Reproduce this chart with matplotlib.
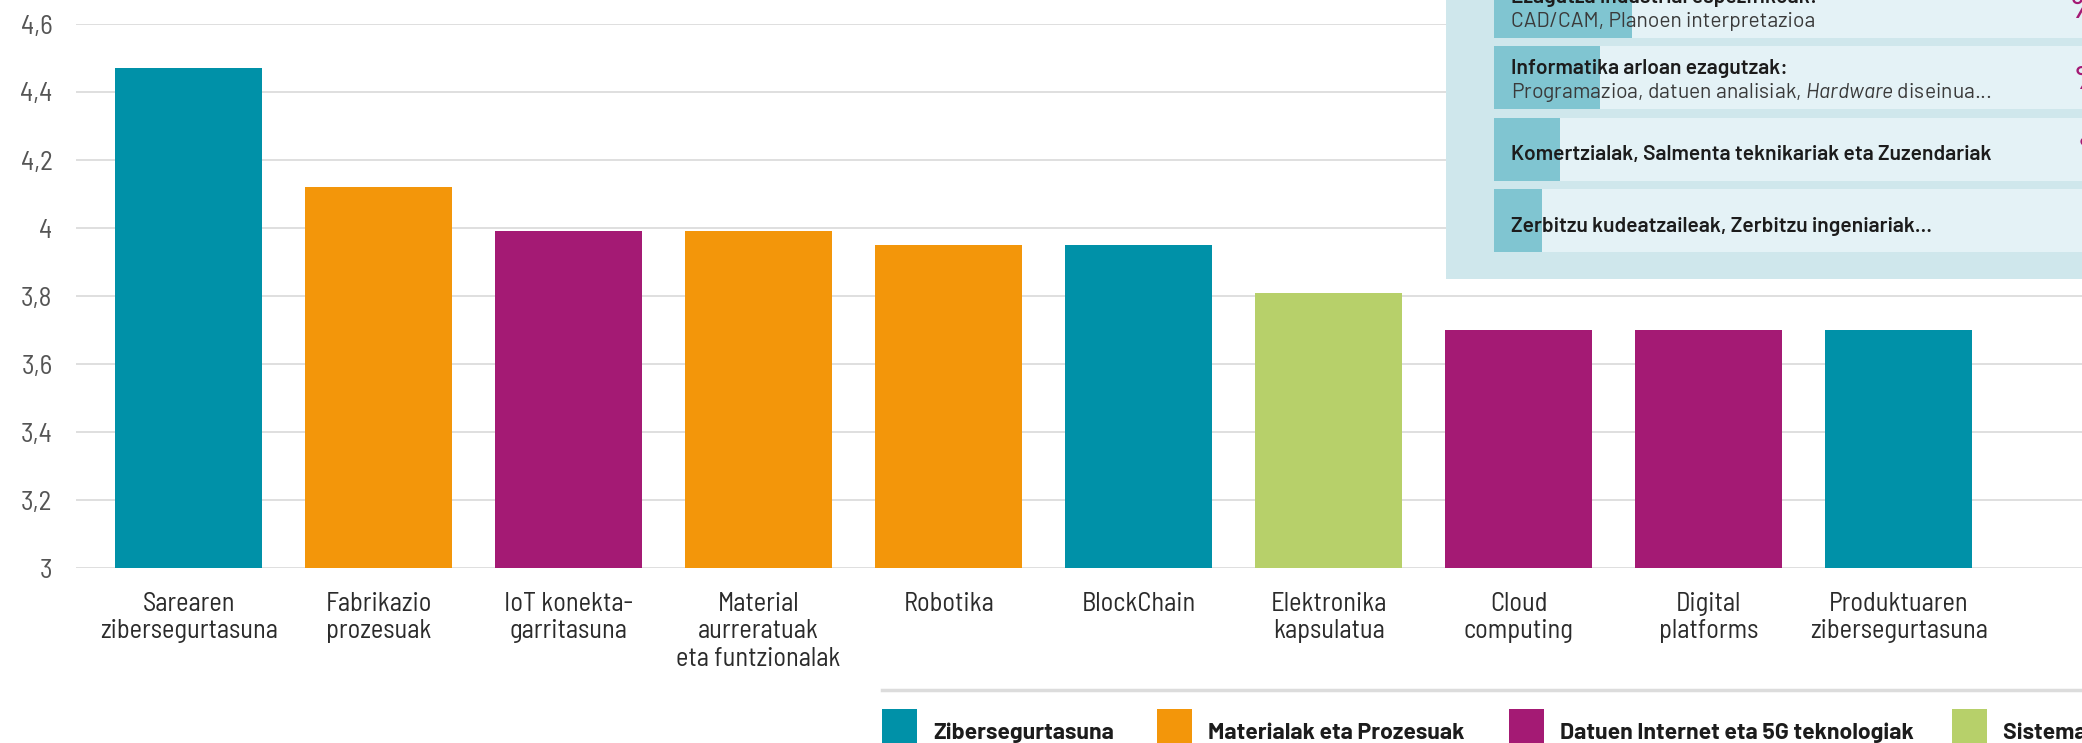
import matplotlib
matplotlib.use("Agg")
import matplotlib.pyplot as plt
from matplotlib.patches import Rectangle

# data
labels = ["Sarearen\nzibersegurtasuna", "Fabrikazio\nprozesuak", "IoT konekta-\ngarritasuna",
          "Material\naurreratuak\neta funtzionalak", "Robotika", "BlockChain",
          "Elektronika\nkapsulatua", "Cloud\ncomputing", "Digital\nplatforms",
          "Produktuaren\nzibersegurtasuna"]
values = [4.47, 4.12, 3.99, 3.99, 3.95, 3.95, 3.81, 3.70, 3.70, 3.70]
groups = ["Ziber", "Mat", "IoT", "Mat", "Mat", "Ziber", "Sist", "IoT", "IoT", "Ziber"]

group_names = ["Zibersegurtasuna", "Materialak eta Prozesuak",
               "Datuen Internet eta 5G teknologiak", "Sistema elektronikoak"]
group_keys = ["Ziber", "Mat", "IoT", "Sist"]
group_colors = {"Ziber": "#0091a8", "Mat": "#f3960a", "IoT": "#a41a74", "Sist": "#b7d06a"}

yticks = [3, 3.2, 3.4, 3.6, 3.8, 4, 4.2, 4.4, 4.6]

# inset panel (profiles)
prof_titles = ["Ezagutza industrial espezifikoak:", "Informatika arloan ezagutzak:",
               "Komertzialak, Salmenta teknikariak eta Zuzendariak",
               "Zerbitzu kudeatzaileak, Zerbitzu ingeniariak..."]
prof_subs = ["CAD/CAM, Planoen interpretazioa",
             r"Programazioa, datuen analisiak, $\it{Hardware}$ diseinua...", "", ""]
prof_share = [22.4, 17.2, 10.7, 7.8]

plt.rcParams['mathtext.fontset'] = 'custom'
plt.rcParams['mathtext.rm'] = 'Barlow'
plt.rcParams['mathtext.it'] = 'Barlow:italic'

cond = ['Barlow Semi Condensed', 'DejaVu Sans']
reg = ['Barlow', 'DejaVu Sans']

W, H = 2082, 743
fig = plt.figure(figsize=(W / 100, H / 100), dpi=100)
fig.patch.set_facecolor("white")

def fx(px):
    return px / W

def fy(py):
    return 1 - py / H

ax = fig.add_axes([fx(76), fy(568), 1 - fx(76), (568 - 24) / H])
x = range(len(values))
ax.bar(x, values, width=0.775, color=[group_colors[g] for g in groups], zorder=3)
ax.set_ylim(3, 4.6)
ax.set_xlim(-0.593, 9.965)
ax.set_yticks(yticks)
ax.set_yticklabels([("%g" % t).replace(".", ",") for t in yticks],
                   family=cond, fontsize=19.5, color="#555555")
ax.set_xticks(list(x))
ax.set_xticklabels(labels, family=cond, fontsize=19, color="#2b2b2b", linespacing=1.2)
ax.tick_params(axis="both", length=0)
ax.tick_params(axis="y", pad=17)
ax.tick_params(axis="x", pad=17)
ax.yaxis.grid(True, color="#dcdcdc", linewidth=1.3)
ax.set_axisbelow(True)
for s in ax.spines.values():
    s.set_visible(False)

# inset panel
fig.add_artist(Rectangle((fx(1446), fy(279)), 1 - fx(1446), 279 / H,
                         transform=fig.transFigure, facecolor="#cfe7ec",
                         edgecolor="none", zorder=5))
pitch = 71.5
top = 6 - pitch / 2
iax = fig.add_axes([fx(1494), fy(top + 4 * pitch), fx(616), 4 * pitch / H], zorder=6)
iax.set_facecolor("none")
rows = range(len(prof_share))
iax.barh(rows, [100] * 4, height=63 / pitch, color="#e4f2f6", left=0)
iax.barh(rows, prof_share, height=63 / pitch, color="#80c5d1", left=0)
iax.set_xlim(0, 100)
iax.set_ylim(3.5, -0.5)
iax.axis("off")
xt = 17 / 616 * 100
for i, (t, s) in enumerate(zip(prof_titles, prof_subs)):
    if s:
        iax.text(xt, i - 3 / pitch, t, fontsize=15.2, fontweight="semibold", family=reg,
                 color="#1c1c1c", va="baseline", ha="left")
        iax.text(xt, i + 21 / pitch, s, fontsize=15.2, family=reg,
                 color="#3a3a3a", va="baseline", ha="left")
    else:
        iax.text(xt, i + 11 / pitch, t, fontsize=15.2, fontweight="semibold", family=reg,
                 color="#1c1c1c", va="baseline", ha="left")
pct_x = [2070, 2074, 2078]
for i, px in enumerate(pct_x):
    iax.text((px - 1494) / 616 * 100, i + 3 / pitch, "%", fontsize=24, fontweight="semibold",
             color="#a41a74", va="center", ha="left", family=reg)

# legend at the bottom
fig.add_artist(plt.Line2D([fx(882), 1], [fy(690), fy(690)], transform=fig.transFigure,
                          color="#dcdcdc", linewidth=2.5))
leg_x = [882, 1157, 1509, 1952]
for k, name, lx in zip(group_keys, group_names, leg_x):
    fig.add_artist(Rectangle((fx(lx), fy(760)), 35 / W, 51 / H, transform=fig.transFigure,
                             facecolor=group_colors[k], edgecolor="none"))
    fig.text(fx(lx + 51), fy(739), name, family=reg, fontweight="bold",
             fontsize=16.5, color="#1c1c1c", va="baseline", ha="left")

fig.savefig("out.png", dpi=100)
